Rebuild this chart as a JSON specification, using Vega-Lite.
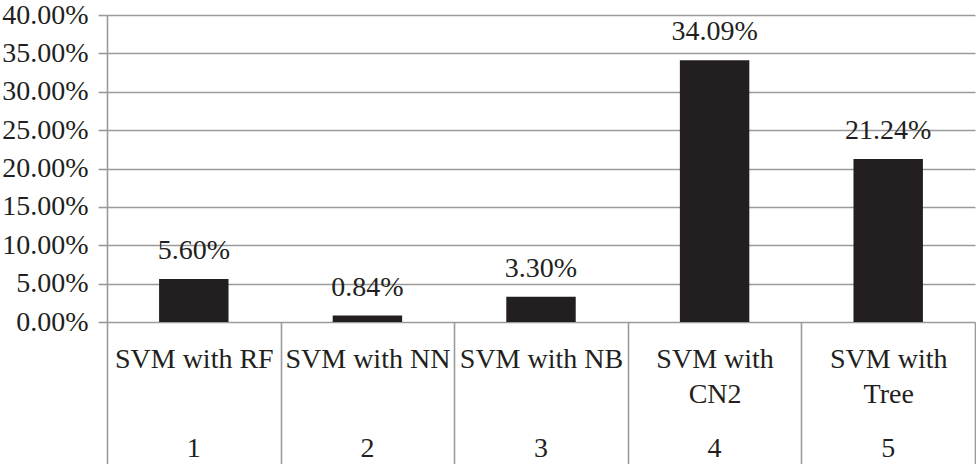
{
  "$schema": "https://vega.github.io/schema/vega-lite/v6.json",
  "width": 868,
  "height": 307,
  "autosize": {"type": "none"},
  "padding": {"left": 107, "top": 15, "right": 1, "bottom": 142},
  "config": {
    "font": "Liberation Serif",
    "view": {"stroke": null},
    "text": {"font": "Liberation Serif"},
    "axis": {"labelFont": "Liberation Serif", "labelColor": "#231f20", "labelFontSize": 28}
  },
  "data": {
    "values": [
      {"method": "SVM with RF", "value": 0.056},
      {"method": "SVM with NN", "value": 0.0084},
      {"method": "SVM with NB", "value": 0.033},
      {"method": "SVM with CN2", "value": 0.3409},
      {"method": "SVM with Tree", "value": 0.2124}
    ]
  },
  "encoding": {
    "y": {
      "field": "value", "type": "quantitative",
      "scale": {"domain": [0, 0.4], "nice": false},
      "axis": {
        "title": null, "format": ".2%",
        "values": [0, 0.05, 0.1, 0.15, 0.2, 0.25, 0.3, 0.35, 0.4],
        "grid": true, "gridColor": "#9a9a9a", "gridWidth": 1.6,
        "domainColor": "#9a9a9a", "domainWidth": 1.6,
        "tickColor": "#9a9a9a", "tickWidth": 1.6, "tickSize": 9,
        "labelPadding": 10, "labelBaseline": "middle", "labelOverlap": false,
        "labelFont": "Liberation Serif"
      }
    }
  },
  "layer": [
    {
      "mark": {"type": "bar", "color": "#231f20", "width": {"band": 0.4}},
      "encoding": {
        "x": {
          "field": "method", "type": "nominal", "sort": null,
          "scale": {"paddingInner": 0, "paddingOuter": 0},
          "axis": {
            "title": null, "orient": "bottom", "grid": false, "domain": false,
            "labelAngle": 0, "labelAlign": "center", "labelBaseline": "alphabetic",
            "labelFont": "Liberation Serif",
            "labelLineHeight": 35, "labelLimit": 0, "labelOverlap": false, "labelBound": false,
            "labelExpr": "datum.value == 'SVM with CN2' ? ['SVM with', 'CN2'] : datum.value == 'SVM with Tree' ? ['SVM with', 'Tree'] : datum.value",
            "tickBand": "extent", "tickSize": 142, "tickColor": "#9a9a9a", "tickWidth": 1.6,
            "labelPadding": -97
          }
        }
      }
    },
    {
      "mark": {"type": "text", "dy": -20, "baseline": "alphabetic", "fontSize": 28, "color": "#231f20", "font": "Liberation Serif"},
      "encoding": {
        "x": {
          "field": "method", "type": "nominal", "sort": null,
          "axis": {
            "title": null, "orient": "bottom", "grid": false, "domain": false, "ticks": false,
            "labelAngle": 0, "labelAlign": "center", "labelBaseline": "alphabetic",
            "labelFont": "Liberation Serif",
            "labelOverlap": false, "labelBound": false, "labelPadding": 134,
            "labelExpr": "'' + (indexof(['SVM with RF', 'SVM with NN', 'SVM with NB', 'SVM with CN2', 'SVM with Tree'], datum.value) + 1)"
          }
        },
        "text": {"field": "value", "type": "quantitative", "format": ".2%"}
      }
    }
  ],
  "resolve": {"axis": {"x": "independent"}}
}
